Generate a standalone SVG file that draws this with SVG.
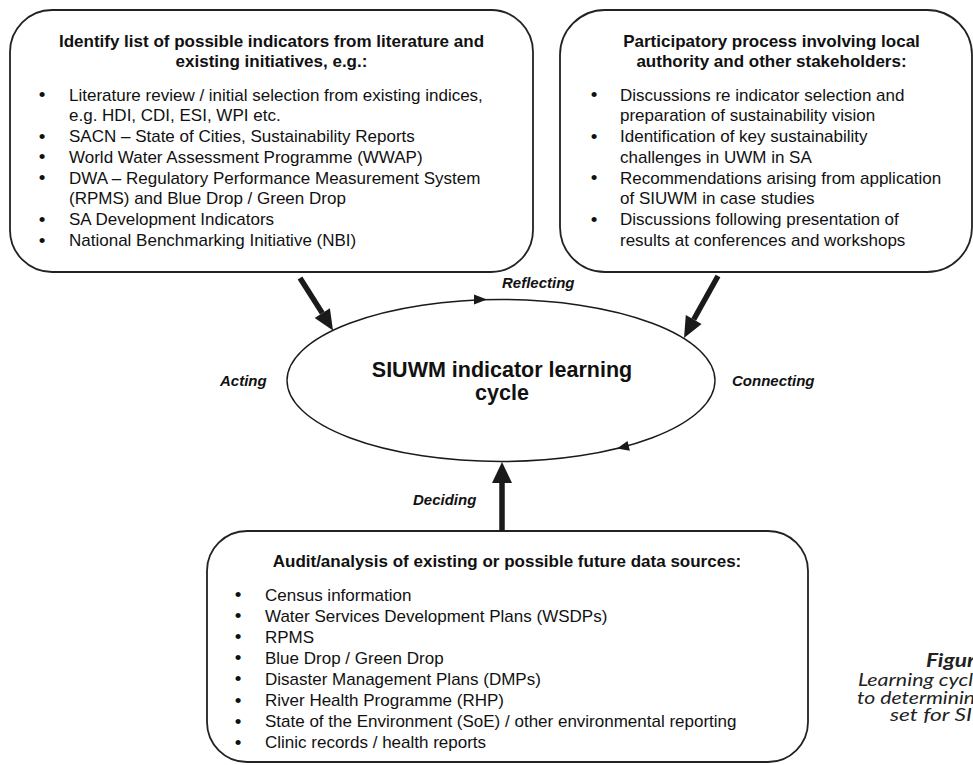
<svg xmlns="http://www.w3.org/2000/svg" width="973" height="765" viewBox="0 0 973 765">
<style>
.box{fill:#fff;stroke:#222;stroke-width:1.8}
.t{font-family:"Liberation Sans",Arial,sans-serif;font-size:17px;fill:#111}
.b{font-weight:bold}
.c{text-anchor:middle}
.bu{font-size:19px}
.lbl{font-family:"Liberation Sans",Arial,sans-serif;font-size:15px;font-weight:bold;font-style:italic;fill:#111}
.cap{font-family:Lato,"Open Sans",sans-serif;font-size:18px;font-style:italic;fill:#222}
.thick{stroke:#1a1a1a;stroke-width:5.5;fill:none}
.head{fill:#1a1a1a}
</style>
<rect width="973" height="765" fill="#fff"/>

<g id="node-literature">
<rect class="box" x="10" y="10" width="523" height="262" rx="42" ry="42"/>
<text class="t b c" x="271.5" y="47">Identify list of possible indicators from literature and</text>
<text class="t b c" x="271.5" y="67">existing initiatives, e.g.:</text>
<g class="t">
<text x="42" y="101" class="c bu">•</text><text x="69" y="100.5">Literature review / initial selection from existing indices,</text>
<text x="69" y="121">e.g. HDI, CDI, ESI, WPI etc.</text>
<text x="42" y="142.5" class="c bu">•</text><text x="69" y="142">SACN – State of Cities, Sustainability Reports</text>
<text x="42" y="163.3" class="c bu">•</text><text x="69" y="162.8">World Water Assessment Programme (WWAP)</text>
<text x="42" y="184.1" class="c bu">•</text><text x="69" y="183.6">DWA – Regulatory Performance Measurement System</text>
<text x="69" y="204.4">(RPMS) and Blue Drop / Green Drop</text>
<text x="42" y="225.7" class="c bu">•</text><text x="69" y="225.2">SA Development Indicators</text>
<text x="42" y="246.5" class="c bu">•</text><text x="69" y="246">National Benchmarking Initiative (NBI)</text>
</g>
</g>

<g id="node-participatory">
<rect class="box" x="560" y="10" width="412" height="262" rx="45" ry="45"/>
<text class="t b c" x="771.5" y="47">Participatory process involving local</text>
<text class="t b c" x="771.5" y="67">authority and other stakeholders:</text>
<g class="t">
<text x="594" y="101" class="c bu">•</text><text x="620" y="100.5">Discussions re indicator selection and</text>
<text x="620" y="121">preparation of sustainability vision</text>
<text x="594" y="142.5" class="c bu">•</text><text x="620" y="142">Identification of key sustainability</text>
<text x="620" y="162.8">challenges in UWM in SA</text>
<text x="594" y="184.1" class="c bu">•</text><text x="620" y="183.6">Recommendations arising from application</text>
<text x="620" y="204.4">of SIUWM in case studies</text>
<text x="594" y="225.7" class="c bu">•</text><text x="620" y="225.2">Discussions following presentation of</text>
<text x="620" y="246">results at conferences and workshops</text>
</g>
</g>

<g id="node-audit">
<rect class="box" x="207" y="531" width="601" height="231" rx="40" ry="40"/>
<text class="t b c" x="507" y="567">Audit/analysis of existing or possible future data sources:</text>
<g class="t">
<text x="238" y="601.2" class="c bu">•</text><text x="265" y="600.7">Census information</text>
<text x="238" y="622.2" class="c bu">•</text><text x="265" y="621.7">Water Services Development Plans (WSDPs)</text>
<text x="238" y="643.2" class="c bu">•</text><text x="265" y="642.7">RPMS</text>
<text x="238" y="664.3" class="c bu">•</text><text x="265" y="663.8">Blue Drop / Green Drop</text>
<text x="238" y="685.4" class="c bu">•</text><text x="265" y="684.9">Disaster Management Plans (DMPs)</text>
<text x="238" y="706.5" class="c bu">•</text><text x="265" y="706">River Health Programme (RHP)</text>
<text x="238" y="727.6" class="c bu">•</text><text x="265" y="727.1">State of the Environment (SoE) / other environmental reporting</text>
<text x="238" y="748.7" class="c bu">•</text><text x="265" y="748.2">Clinic records / health reports</text>
</g>
</g>

<g id="node-cycle">
<ellipse cx="501" cy="380.5" rx="214" ry="81" fill="#fff" stroke="#1a1a1a" stroke-width="1.4"/>
<text class="t b c" x="502" y="377" style="font-size:21.5px">SIUWM indicator learning</text>
<text class="t b c" x="502" y="400" style="font-size:21.5px">cycle</text>
<polygon class="head" points="487,299.6 474,294.6 474,304.6"/>
<polygon class="head" points="617,448.6 627.5,440.9 629.9,450.7"/>
</g>

<g id="connectors">
<line class="thick" x1="300" y1="278" x2="322.3" y2="313.1"/>
<polygon class="head" points="333,330.5 314.7,317.9 329.9,308.3"/>
<line class="thick" x1="718" y1="276" x2="693.7" y2="319.5"/>
<polygon class="head" points="684,338 701.6,323.9 685.8,315.1"/>
<line class="thick" x1="502" y1="531" x2="502" y2="481"/>
<polygon class="head" points="502,462 492,483 512,483"/>
</g>

<g id="labels">
<text class="lbl" x="502" y="288">Reflecting</text>
<text class="lbl" x="220" y="386">Acting</text>
<text class="lbl" x="732" y="386">Connecting</text>
<text class="lbl" x="413" y="505">Deciding</text>
</g>

<g id="caption">
<text class="cap" x="926" y="667" style="font-weight:bold" textLength="49" lengthAdjust="spacingAndGlyphs">Figur</text>
<text class="cap" x="858" y="686" textLength="115" lengthAdjust="spacingAndGlyphs">Learning cycl</text>
<text class="cap" x="857" y="703.5" textLength="118" lengthAdjust="spacingAndGlyphs">to determinin</text>
<text class="cap" x="890" y="721" textLength="82" lengthAdjust="spacingAndGlyphs">set for SI</text>
</g>
</svg>
